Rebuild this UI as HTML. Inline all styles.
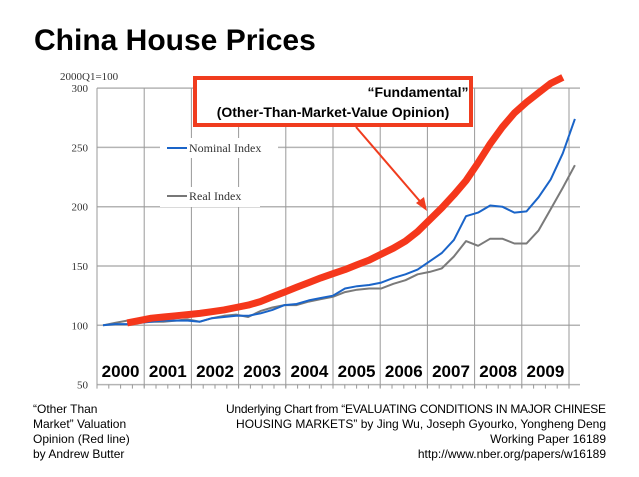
<!DOCTYPE html>
<html><head><meta charset="utf-8"><style>
html,body{margin:0;padding:0;background:#fff;}
svg{display:block;font-family:"Liberation Sans",Arial,sans-serif;}
</style></head><body>
<svg id="chart" width="639" height="477" viewBox="0 0 639 477">
<text x="34" y="50" font-size="30" font-weight="bold" fill="#000">China House Prices</text>
<text x="60" y="80" font-size="11" font-family="Liberation Serif,serif" fill="#333">2000Q1=100</text>
<g id="grid"></g>
<g id="yticks"></g>
<g id="years"></g>
<g id="legend">
<rect x="160" y="138" width="118" height="20" fill="#fff"/>
<line x1="167" y1="148" x2="187" y2="148" stroke="#1a64c8" stroke-width="2"/>
<text x="189" y="152" font-size="12" font-family="Liberation Serif,serif" fill="#333">Nominal Index</text>
<rect x="160" y="187" width="100" height="20" fill="#fff"/>
<line x1="167" y1="196" x2="187" y2="196" stroke="#777" stroke-width="2"/>
<text x="189" y="200" font-size="12" font-family="Liberation Serif,serif" fill="#333">Real Index</text>
</g>
<g id="series"></g>
<g>
<rect x="195" y="78" width="276" height="47" fill="#fff" stroke="#f03c1e" stroke-width="4"/>
<text x="418" y="97" font-size="14" font-weight="bold" text-anchor="middle" fill="#000">“Fundamental”</text>
<text x="333" y="117" font-size="14" font-weight="bold" text-anchor="middle" fill="#000">(Other-Than-Market-Value Opinion)</text>
<line x1="356" y1="127" x2="424" y2="206" stroke="#f03c1e" stroke-width="2"/>
<polygon points="427,211 416,203 424,197" fill="#f03c1e"/>
</g>
<g font-size="12" fill="#000">
<text x="33" y="413">“Other Than</text>
<text x="33" y="428">Market” Valuation</text>
<text x="33" y="443">Opinion (Red line)</text>
<text x="33" y="458">by Andrew Butter</text>
</g>
<g font-size="12" fill="#000" text-anchor="end">
<text x="606" y="413" textLength="380">Underlying Chart from “EVALUATING CONDITIONS IN MAJOR CHINESE</text>
<text x="606" y="428">HOUSING MARKETS” by Jing Wu, Joseph Gyourko, Yongheng Deng</text>
<text x="606" y="443">Working Paper 16189</text>
<text x="606" y="458">http://www.nber.org/papers/w16189</text>
</g>
</svg>
<script>
const yTicks=[50,100,150,200,250,300];
const years=["2000","2001","2002","2003","2004","2005","2006","2007","2008","2009"];
const nominal=[100,101,101,102,103,104,104,104,103,106,107,108,108,110,113,117,118,121,123,125,131,133,134,136,140,143,147,154,161,172,192,195,201,200,195,196,208,223,245,274];
const real=[100,102,104,104,103,103,104,105,103,106,108,109,107,112,115,117,117,120,122,124,128,130,131,131,135,138,143,145,148,158,171,167,173,173,169,169,180,198,216,235];
const fundamentalStart=2;
const fundamental=[102,104,106,107,108,109,110,111.5,113,115,117,120,124,128,132,136,140,143.5,147,151,155,160,165,171,179,189,199,210,222,237,253,267,279,288,296,304,309];
const NS="http://www.w3.org/2000/svg";
const y=v=>325.3-(v-100)*1.186;
const xq=t=>103+t*12.1;
const xy=i=>97+i*47.2;
function mk(tag,attrs,parent){const e=document.createElementNS(NS,tag);for(const k in attrs)e.setAttribute(k,attrs[k]);parent.appendChild(e);return e;}
const grid=document.getElementById('grid'),yt=document.getElementById('yticks'),yr=document.getElementById('years'),ser=document.getElementById('series');
yTicks.forEach(v=>{
 const l=mk('line',{x1:97,x2:580,y1:y(v),y2:y(v),stroke:'#b4b4b4','stroke-width':1.5},grid);
 
 
 const t=mk('text',{x:88,y:y(v)+4,'font-size':11,'text-anchor':'end','font-family':'Liberation Serif,serif',fill:'#333'},yt);
 t.textContent=v;
 
 
});
for(let i=0;i<=years.length;i++){
 const l=mk('line',{x1:xy(i),x2:xy(i),y1:y(300),y2:y(50)+3,stroke:'#999','stroke-width':1},grid);
 
 
}
for(let q=0;q<=40;q++){mk('line',{x1:97+q*11.8,x2:97+q*11.8,y1:y(50),y2:y(50)+4,stroke:'#999'},grid);}
years.forEach((s,i)=>{
 const t=mk('text',{x:xy(i)+23.6,y:377,'font-size':17,'font-weight':'bold','text-anchor':'middle',fill:'#000'},yr);
 t.textContent=s;
 
 
});
function path(arr,off,color,w,name){
 const d=arr.map((v,i)=>(i?'L':'M')+xq(i+off).toFixed(1)+','+y(v).toFixed(1)).join(' ');
 const p=mk('path',{d:d,fill:'none',stroke:color,'stroke-width':w,'stroke-linejoin':'round'},ser);
 
 
}
path(real,0,'#7a7a7a',2,'real-index-line');
path(nominal,0,'#1a64c8',2,'nominal-index-line');
path(fundamental,fundamentalStart,'#f5371b',7,'fundamental-line');
</script>
</body></html>
